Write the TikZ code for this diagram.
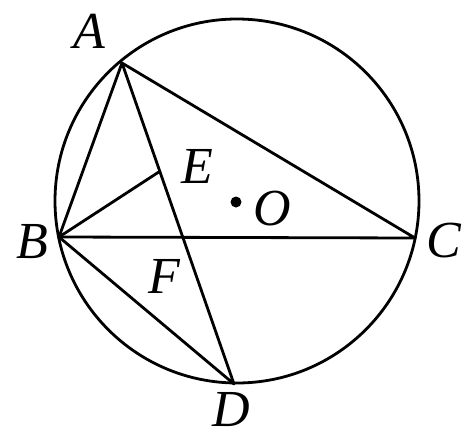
\documentclass[tikz,border=0pt]{standalone}
\usepackage{fontspec}
\setmainfont{Liberation Serif}
\usetikzlibrary{calc}
\begin{document}
\begin{tikzpicture}[x=1pt,y=-1pt,
  geo/.style={line width=2.8pt,line join=round,line cap=round},
  lab/.style={font=\fontsize{52}{52}\selectfont\itshape,inner sep=0pt}]
\useasboundingbox (0,0) rectangle (468,434);
\coordinate (O) at (237,201);
\coordinate (A) at (122,63);
\coordinate (B) at (59,237);
\coordinate (C) at (415,238);
\coordinate (D) at (234,384);
\coordinate (E) at ($(A)!0.3375!(D)$);
\draw[geo] (O) circle (182);
\draw[geo] (A) -- (B) -- (C) -- cycle;
\draw[geo] (A) -- (D) -- (B);
\draw[geo] (B) -- (E);
\fill (236,202) circle (5.5);
\node[lab] (la) at (89,31) {A};
\node[lab] (le) at (197,166) {E};
\node[lab] (lo) at (272,209) {O};
\node[lab] (lb) at (32,242) {B};
\node[lab] (lf) at (164,276) {F};
\node[lab] (lc) at (444,241) {C};
\node[lab] (ld) at (231,410) {D};
\end{tikzpicture}
\end{document}
